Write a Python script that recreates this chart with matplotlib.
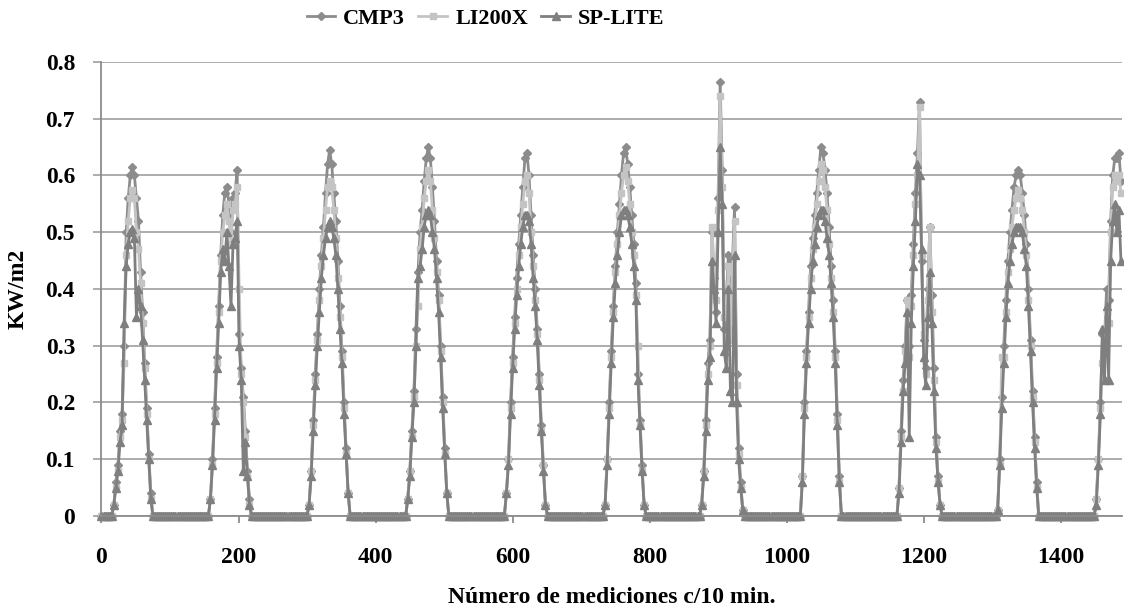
import numpy as np
import matplotlib.pyplot as plt

plt.rcParams['font.family'] = ['Liberation Serif', 'DejaVu Serif']
plt.rcParams['font.weight'] = 'bold'
plt.rcParams['axes.labelweight'] = 'bold'
plt.rcParams['font.size'] = 17

# every 3rd measurement (10 min each), night readings are 0
step = 3
last_x = 1488
day_starts = [15, 156, 300, 444, 588, 732, 873, 1020, 1161, 1305, 1449]

cmp3_days = [
    [0.00, 0.02, 0.06, 0.09, 0.15, 0.18, 0.30, 0.50, 0.56, 0.60, 0.615, 0.60, 0.56, 0.52, 0.43, 0.36, 0.27, 0.19, 0.11, 0.04],
    [0, 0.03, 0.10, 0.19, 0.28, 0.37, 0.46, 0.53, 0.57, 0.58, 0.55, 0.50, 0.56, 0.57, 0.61, 0.32, 0.26, 0.21, 0.15, 0.08, 0.03, 0],
    [0, 0.02, 0.08, 0.17, 0.25, 0.32, 0.40, 0.46, 0.51, 0.57, 0.62, 0.645, 0.62, 0.57, 0.52, 0.45, 0.37, 0.29, 0.20, 0.12, 0.04, 0],
    [0, 0.03, 0.08, 0.15, 0.22, 0.33, 0.43, 0.50, 0.54, 0.59, 0.63, 0.65, 0.63, 0.58, 0.52, 0.45, 0.39, 0.30, 0.21, 0.12, 0.04, 0],
    [0, 0.04, 0.10, 0.20, 0.28, 0.35, 0.42, 0.48, 0.53, 0.58, 0.63, 0.64, 0.60, 0.53, 0.46, 0.40, 0.33, 0.25, 0.16, 0.09, 0.02, 0],
    [0, 0.02, 0.10, 0.20, 0.29, 0.37, 0.44, 0.50, 0.55, 0.60, 0.64, 0.65, 0.62, 0.58, 0.53, 0.48, 0.41, 0.25, 0.17, 0.09, 0.02, 0],
    [0, 0.02, 0.08, 0.17, 0.27, 0.31, 0.50, 0.42, 0.36, 0.56, 0.765, 0.61, 0.33, 0.38, 0.46, 0.33, 0.45, 0.545, 0.25, 0.12, 0.06, 0.01, 0],
    [0, 0.07, 0.20, 0.29, 0.36, 0.44, 0.49, 0.53, 0.57, 0.61, 0.65, 0.64, 0.61, 0.57, 0.51, 0.44, 0.38, 0.29, 0.18, 0.07, 0],
    [0, 0.05, 0.15, 0.24, 0.30, 0.38, 0.30, 0.39, 0.48, 0.57, 0.64, 0.73, 0.45, 0.31, 0.26, 0.40, 0.51, 0.39, 0.26, 0.14, 0.07, 0.02, 0],
    [0, 0.01, 0.10, 0.21, 0.30, 0.38, 0.45, 0.50, 0.54, 0.58, 0.60, 0.61, 0.60, 0.57, 0.53, 0.48, 0.40, 0.31, 0.22, 0.14, 0.06, 0],
    [0, 0.03, 0.10, 0.20, 0.32, 0.31, 0.40, 0.38, 0.52, 0.60, 0.63, 0.63, 0.64, 0.59],
]

li200x_days = [
    [0.00, 0.02, 0.05, 0.08, 0.14, 0.17, 0.27, 0.46, 0.52, 0.56, 0.575, 0.56, 0.50, 0.47, 0.41, 0.34, 0.26, 0.18, 0.10, 0.03],
    [0, 0.03, 0.09, 0.18, 0.27, 0.36, 0.45, 0.50, 0.53, 0.55, 0.52, 0.48, 0.54, 0.55, 0.58, 0.40, 0.25, 0.20, 0.14, 0.07, 0.02, 0],
    [0, 0.02, 0.08, 0.16, 0.24, 0.31, 0.38, 0.44, 0.49, 0.54, 0.58, 0.59, 0.58, 0.54, 0.49, 0.42, 0.35, 0.28, 0.19, 0.11, 0.04, 0],
    [0, 0.03, 0.08, 0.14, 0.21, 0.30, 0.37, 0.47, 0.51, 0.56, 0.59, 0.61, 0.59, 0.54, 0.49, 0.43, 0.38, 0.29, 0.20, 0.11, 0.04, 0],
    [0, 0.04, 0.10, 0.19, 0.27, 0.34, 0.40, 0.46, 0.51, 0.55, 0.59, 0.60, 0.57, 0.50, 0.44, 0.38, 0.32, 0.24, 0.15, 0.09, 0.02, 0],
    [0, 0.02, 0.10, 0.19, 0.28, 0.36, 0.43, 0.48, 0.53, 0.57, 0.60, 0.615, 0.59, 0.55, 0.50, 0.46, 0.39, 0.30, 0.16, 0.08, 0.02, 0],
    [0, 0.02, 0.08, 0.16, 0.25, 0.30, 0.51, 0.44, 0.38, 0.54, 0.74, 0.58, 0.35, 0.36, 0.44, 0.31, 0.43, 0.52, 0.23, 0.11, 0.05, 0.01, 0],
    [0, 0.07, 0.19, 0.28, 0.35, 0.42, 0.47, 0.51, 0.55, 0.59, 0.62, 0.61, 0.58, 0.54, 0.48, 0.42, 0.36, 0.28, 0.17, 0.06, 0],
    [0, 0.05, 0.14, 0.22, 0.29, 0.38, 0.28, 0.37, 0.46, 0.55, 0.60, 0.72, 0.46, 0.32, 0.25, 0.38, 0.51, 0.36, 0.24, 0.13, 0.06, 0.02, 0],
    [0, 0.01, 0.09, 0.28, 0.28, 0.36, 0.43, 0.47, 0.51, 0.54, 0.56, 0.575, 0.56, 0.54, 0.50, 0.46, 0.38, 0.30, 0.21, 0.13, 0.05, 0],
    [0, 0.03, 0.10, 0.19, 0.27, 0.32, 0.36, 0.34, 0.50, 0.58, 0.60, 0.59, 0.60, 0.57],
]

splite_days = [
    [0.00, 0.02, 0.05, 0.08, 0.13, 0.16, 0.34, 0.44, 0.48, 0.50, 0.505, 0.49, 0.35, 0.40, 0.37, 0.31, 0.24, 0.17, 0.10, 0.03],
    [0, 0.03, 0.09, 0.17, 0.26, 0.34, 0.43, 0.47, 0.45, 0.50, 0.44, 0.37, 0.48, 0.49, 0.52, 0.30, 0.24, 0.08, 0.13, 0.07, 0.02, 0],
    [0, 0.02, 0.07, 0.15, 0.23, 0.30, 0.36, 0.42, 0.46, 0.49, 0.51, 0.52, 0.51, 0.49, 0.46, 0.40, 0.33, 0.27, 0.18, 0.11, 0.04, 0],
    [0, 0.03, 0.07, 0.14, 0.20, 0.30, 0.42, 0.44, 0.47, 0.51, 0.53, 0.54, 0.53, 0.50, 0.47, 0.42, 0.36, 0.28, 0.19, 0.11, 0.04, 0],
    [0, 0.04, 0.09, 0.18, 0.26, 0.33, 0.39, 0.44, 0.48, 0.51, 0.53, 0.53, 0.52, 0.48, 0.42, 0.37, 0.31, 0.23, 0.15, 0.08, 0.02, 0],
    [0, 0.02, 0.09, 0.18, 0.27, 0.35, 0.41, 0.46, 0.50, 0.53, 0.54, 0.54, 0.53, 0.51, 0.48, 0.44, 0.38, 0.24, 0.16, 0.08, 0.02, 0],
    [0, 0.02, 0.07, 0.15, 0.24, 0.28, 0.45, 0.40, 0.34, 0.50, 0.65, 0.55, 0.29, 0.26, 0.40, 0.22, 0.20, 0.46, 0.20, 0.10, 0.05, 0.01, 0],
    [0, 0.06, 0.18, 0.27, 0.34, 0.40, 0.45, 0.48, 0.51, 0.53, 0.54, 0.54, 0.52, 0.49, 0.46, 0.41, 0.35, 0.27, 0.16, 0.06, 0],
    [0, 0.04, 0.13, 0.22, 0.27, 0.36, 0.14, 0.34, 0.44, 0.52, 0.62, 0.60, 0.47, 0.28, 0.23, 0.35, 0.43, 0.34, 0.22, 0.12, 0.06, 0.02, 0],
    [0, 0.01, 0.09, 0.19, 0.27, 0.35, 0.41, 0.45, 0.48, 0.50, 0.51, 0.51, 0.51, 0.50, 0.47, 0.44, 0.37, 0.29, 0.20, 0.12, 0.05, 0],
    [0, 0.02, 0.09, 0.18, 0.33, 0.24, 0.37, 0.24, 0.45, 0.52, 0.55, 0.50, 0.54, 0.45],
]

x_ticks = [0, 200, 400, 600, 800, 1000, 1200, 1400]
y_ticks = [0, 0.1, 0.2, 0.3, 0.4, 0.5, 0.6, 0.7, 0.8]
y_tick_labels = ['0', '0.1', '0.2', '0.3', '0.4', '0.5', '0.6', '0.7', '0.8']


def build(days):
    x = np.arange(0, last_x + 1, step)
    y = np.zeros(len(x))
    for start, vals in zip(day_starts, days):
        i = start // step
        y[i:i + len(vals)] = vals
    return x, y


fig = plt.figure(figsize=(11.24, 6.12), dpi=100)
ax = fig.add_axes([0.0903, 0.1569, 0.9079, 0.7418])

x, y = build(cmp3_days)
ax.plot(x, y, color='#8c8c8c', lw=2, marker='D', ms=4.5, label='CMP3', clip_on=False)
x, y = build(li200x_days)
ax.plot(x, y, color='#c4c4c4', lw=2, marker='s', ms=5, label='LI200X', clip_on=False)
x, y = build(splite_days)
ax.plot(x, y, color='#7f7f7f', lw=2, marker='^', ms=6.2, label='SP-LITE', clip_on=False)

ax.set_xlim(0, 1489.5)
ax.set_ylim(0, 0.8)
ax.set_xticks(x_ticks)
ax.set_yticks(y_ticks)
ax.set_yticklabels(y_tick_labels)
ax.grid(axis='y', color='#a6a6a6', lw=1.3)
ax.set_axisbelow(True)
for s in ['top', 'right']:
    ax.spines[s].set_visible(False)
for s in ['left', 'bottom']:
    ax.spines[s].set_color('#8c8c8c')
    ax.spines[s].set_linewidth(1.3)
ax.tick_params(axis='y', direction='out', length=6, width=1.3, color='#a6a6a6', pad=13)
ax.tick_params(axis='x', direction='out', length=5, width=1.3, color='#8c8c8c', pad=17)

ax.set_xlabel('Número de mediciones c/10 min.', labelpad=14)
ax.set_ylabel('KW/m2', labelpad=12)

fig.legend(loc='center', bbox_to_anchor=(0.432, 0.97), ncol=3, frameon=False,
           handlelength=1.3, handletextpad=0.35, columnspacing=0.6, fontsize=16)

fig.savefig('out.png', dpi=100)
